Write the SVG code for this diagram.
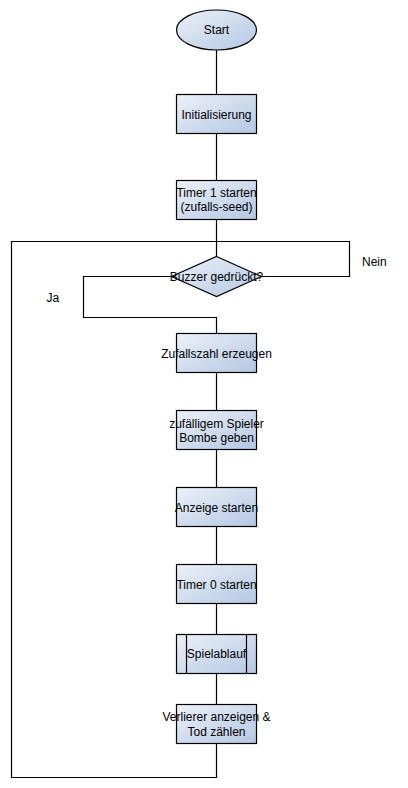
<svg xmlns="http://www.w3.org/2000/svg" width="408" height="788" viewBox="0 0 408 788">
<defs>
<linearGradient id="g" x1="0" y1="0" x2="1" y2="1">
<stop offset="0" stop-color="#edf1f8"/>
<stop offset="1" stop-color="#b3c7e3"/>
</linearGradient>
<style>
.s{fill:url(#g);stroke:#000;stroke-width:1.2}
.c{fill:none;stroke:#000;stroke-width:1.2}
text{font-family:"Liberation Sans",Arial,sans-serif;font-size:12px;fill:#000;text-anchor:middle}
.l{text-anchor:start}
</style>
</defs>
<rect width="408" height="788" fill="#fff"/>
<g id="connectors">
<path class="c" d="M216.5 50V94M216.5 134V180M216.5 220V256"/>
<path class="c" d="M216.5 241.5H349.5V276.5H261"/>
<path class="c" d="M171 276.5H83.5V317.5H216.5V333"/>
<path class="c" d="M216.5 373V410M216.5 450V487M216.5 527V564M216.5 604V634M216.5 674V704"/>
<path class="c" d="M216.5 744V777.5H11.5V241.5H216.5"/>
</g>
<g id="start"><ellipse class="s" cx="216.5" cy="30" rx="40" ry="20"/><text x="216.5" y="34">Start</text></g>
<g id="init"><rect class="s" x="176.5" y="94.5" width="80" height="39"/><text x="216.5" y="119">Initialisierung</text></g>
<g id="timer1"><rect class="s" x="176.5" y="180.5" width="80" height="39"/><text x="216.5" y="197">Timer 1 starten</text><text x="216.5" y="211">(zufalls-seed)</text></g>
<g id="buzzer"><path class="s" d="M216.5 256.5L261.5 276.5L216.5 296.5L171.5 276.5Z"/><text x="216.5" y="281">Buzzer gedrückt?</text></g>
<g id="nein-label"><text class="l" x="362" y="266">Nein</text></g>
<g id="ja-label"><text class="l" x="46.5" y="302">Ja</text></g>
<g id="zufallszahl"><rect class="s" x="176.5" y="333.5" width="80" height="39"/><text x="216.5" y="358">Zufallszahl erzeugen</text></g>
<g id="bombe"><rect class="s" x="176.5" y="410.5" width="80" height="39"/><text x="216.5" y="428">zufälligem Spieler</text><text x="216.5" y="442">Bombe geben</text></g>
<g id="anzeige"><rect class="s" x="176.5" y="487.5" width="80" height="39"/><text x="216.5" y="512">Anzeige starten</text></g>
<g id="timer0"><rect class="s" x="176.5" y="564.5" width="80" height="39"/><text x="216.5" y="589">Timer 0 starten</text></g>
<g id="spielablauf"><rect class="s" x="176.5" y="634.5" width="80" height="39"/><path class="c" d="M186.5 634.5V673.5M246.5 634.5V673.5"/><text x="216.5" y="658">Spielablauf</text></g>
<g id="verlierer"><rect class="s" x="176.5" y="704.5" width="80" height="39"/><text x="216.5" y="721">Verlierer anzeigen &amp;</text><text x="216.5" y="736">Tod zählen</text></g>
</svg>
